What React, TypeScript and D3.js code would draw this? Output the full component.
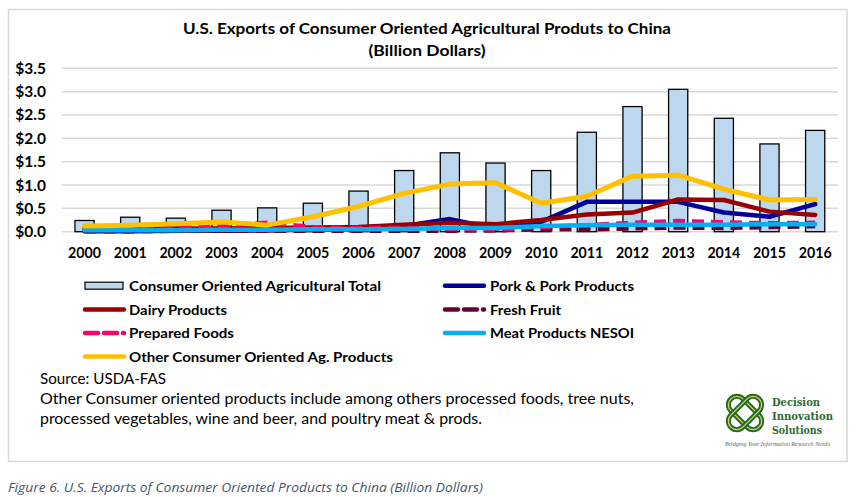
import React from 'react';
import * as d3 from 'd3';

const years = ['2000','2001','2002','2003','2004','2005','2006','2007','2008','2009','2010','2011','2012','2013','2014','2015','2016'];
const totalValues = [0.24,0.31,0.29,0.46,0.51,0.61,0.87,1.31,1.69,1.47,1.31,2.13,2.68,3.05,2.43,1.88,2.17];
const porkValues = [0.01,0.01,0.02,0.02,0.03,0.04,0.05,0.12,0.27,0.07,0.21,0.64,0.64,0.64,0.41,0.32,0.59];
const dairyValues = [0.06,0.06,0.07,0.07,0.08,0.09,0.1,0.15,0.19,0.16,0.25,0.37,0.41,0.69,0.68,0.43,0.36];
const fruitValues = [0.01,0.01,0.02,0.02,0.02,0.02,0.02,0.02,0.02,0.03,0.05,0.05,0.07,0.09,0.08,0.1,0.12];
const preparedValues = [0.05,0.07,0.08,0.13,0.19,0.1,0.08,0.08,0.06,0.05,0.1,0.14,0.19,0.23,0.2,0.18,0.19];
const meatValues = [0.03,0.03,0.03,0.04,0.04,0.05,0.05,0.06,0.08,0.08,0.12,0.14,0.15,0.15,0.15,0.16,0.16];
const otherValues = [0.12,0.14,0.17,0.21,0.14,0.32,0.54,0.82,1.02,1.05,0.61,0.76,1.19,1.21,0.91,0.68,0.69];
const yTicks = [0, 0.5, 1.0, 1.5, 2.0, 2.5, 3.0, 3.5];

const titleLine1 = 'U.S. Exports of Consumer Oriented Agricultural Produts to China';
const titleLine2 = '(Billion Dollars)';
const sourceLines = [
  'Source: USDA-FAS',
  'Other Consumer oriented products include among others  processed foods, tree nuts,',
  'processed vegetables, wine and beer, and poultry meat & prods.',
];
const caption = 'Figure 6. U.S. Exports of Consumer Oriented Products to China (Billion Dollars)';
const logoLines = ['Decision', 'Innovation', 'Solutions'];
const logoTagline = 'Bridging Your Information Research Needs';

const FONT = 'Lato, Carlito, "Liberation Sans", sans-serif';

type Series = { name: string; values: number[]; color: string; width: number; dash?: string };

const lineSeries: Series[] = [
  { name: 'Pork & Pork Products', values: porkValues, color: '#000099', width: 4.5 },
  { name: 'Dairy Products', values: dairyValues, color: '#990000', width: 4.5 },
  { name: 'Fresh Fruit', values: fruitValues, color: '#660033', width: 4.5, dash: '12 7' },
  { name: 'Prepared Foods', values: preparedValues, color: '#FF0066', width: 4.5, dash: '12 7' },
  { name: 'Meat Products NESOI', values: meatValues, color: '#00B0F0', width: 4.5 },
  { name: 'Other Consumer Oriented Ag. Products', values: otherValues, color: '#FFC000', width: 5 },
];

export default function App() {
  const W = 857, H = 497;
  const x = d3.scaleBand<string>().domain(years).range([61.7, 838]).padding(0);
  const y = d3.scaleLinear().domain([0, 3.5]).range([231.7, 68.3]);
  const bw = x.bandwidth() * 0.42;
  const cx = (yr: string) => (x(yr) as number) + x.bandwidth() / 2;

  const lineGen = (vals: number[]) =>
    d3.line<number>()
      .x((_, i) => cx(years[i]))
      .y((v) => y(v))
      .curve(d3.curveLinear)(vals) as string;

  const legendItems = [
    { kind: 'bar', label: 'Consumer Oriented Agricultural Total', col: 0, row: 0, tl: 252 },
    { kind: 'line', s: lineSeries[0], label: lineSeries[0].name, col: 1, row: 0, tl: 144 },
    { kind: 'line', s: lineSeries[1], label: lineSeries[1].name, col: 0, row: 1, tl: 98 },
    { kind: 'line', s: lineSeries[2], label: lineSeries[2].name, col: 1, row: 1, tl: 71 },
    { kind: 'line', s: lineSeries[3], label: lineSeries[3].name, col: 0, row: 2, tl: 105 },
    { kind: 'line', s: lineSeries[4], label: lineSeries[4].name, col: 1, row: 2, tl: 144 },
    { kind: 'line', s: lineSeries[5], label: lineSeries[5].name, col: 0, row: 3, tl: 264 },
  ] as any[];
  const legendRowY = [285.7, 309.5, 333, 356.5];
  const legendSymX = [84, 444];
  const legendTextX = [129, 490];
  const logoWidths = [48, 61, 50];

  return (
    <svg width={W} height={H} style={{ position: 'absolute', left: 0, top: 0, background: '#fff' }} fontFamily={FONT}>
      <rect x={0} y={0} width={W} height={H} fill="#fff" />
      <rect x={8.5} y={9.5} width={838.5} height={452} fill="#fff" stroke="#D9D9D9" strokeWidth={1.5} />

      {/* Title */}
      <text x={427} y={34} textAnchor="middle" fontSize={16} fontWeight="bold" fill="#000" textLength={488} lengthAdjust="spacingAndGlyphs">{titleLine1}</text>
      <text x={427} y={56} textAnchor="middle" fontSize={16} fontWeight="bold" fill="#000" textLength={117} lengthAdjust="spacingAndGlyphs">{titleLine2}</text>

      {/* Grid + y ticks */}
      {yTicks.map((t) => (
        <g key={t}>
          <line x1={61.7} x2={838} y1={y(t)} y2={y(t)} stroke="#D9D9D9" strokeWidth={1.5} />
          <text x={46} y={y(t) + 5.5} textAnchor="end" fontSize={15.5} fontWeight="bold" fill="#000">{'$' + t.toFixed(1)}</text>
        </g>
      ))}

      {/* Bars */}
      {years.map((yr, i) => (
        <rect key={yr} x={cx(yr) - bw / 2} y={y(totalValues[i])} width={bw} height={y(0) - y(totalValues[i])}
          fill="#BDD7EE" stroke="#000" strokeWidth={1.3} />
      ))}

      {/* Lines */}
      {lineSeries.map((s) => (
        <path key={s.name} d={lineGen(s.values)} fill="none" stroke={s.color} strokeWidth={s.width}
          strokeDasharray={s.dash} strokeLinejoin="round" strokeLinecap={s.dash ? 'butt' : 'round'} />
      ))}

      {/* X labels */}
      {years.map((yr) => (
        <text key={yr} x={cx(yr)} y={258} textAnchor="middle" fontSize={14.2} fontWeight="bold" fill="#000">{yr}</text>
      ))}

      {/* Legend */}
      {legendItems.map((it, i) => {
        const yy = legendRowY[it.row];
        const sx = legendSymX[it.col];
        return (
          <g key={i}>
            {it.kind === 'bar' ? (
              <rect x={sx + 1} y={yy - 3.5} width={38} height={7} fill="#BDD7EE" stroke="#000" strokeWidth={1.2} />
            ) : (
              <line x1={sx + 1} x2={sx + 40} y1={yy} y2={yy} stroke={it.s.color} strokeWidth={4.5}
                strokeDasharray={it.s.dash ? '13 6' : undefined} strokeLinecap="round" />
            )}
            <text x={legendTextX[it.col]} y={yy + 5} fontSize={14} fontWeight="bold" fill="#000" textLength={it.tl} lengthAdjust="spacingAndGlyphs">{it.label}</text>
          </g>
        );
      })}

      {/* Source notes */}
      <text x={40} y={383.5} fontSize={14.5} fill="#000" textLength={126} lengthAdjust="spacingAndGlyphs">{sourceLines[0]}</text>
      <text x={40} y={404} fontSize={14.5} fill="#000" textLength={594} lengthAdjust="spacingAndGlyphs">{sourceLines[1]}</text>
      <text x={40} y={424} fontSize={14.5} fill="#000" textLength={442} lengthAdjust="spacingAndGlyphs">{sourceLines[2]}</text>

      {/* Logo */}
      <g transform="translate(745,413)">
        {[45, -45].map((a) => (
          <g key={a} transform={`rotate(${a})`}>
            <rect x={-20} y={-8.5} width={40} height={17} rx={8.5} fill="none" stroke="#1E6B2E" strokeWidth={5} />
            <rect x={-20} y={-8.5} width={40} height={17} rx={8.5} fill="none" stroke="#F4CB4A" strokeWidth={1.3} />
          </g>
        ))}
      </g>
      <g fontFamily='"DejaVu Serif", "Liberation Serif", serif' fontWeight="bold" fill="#2E6B30" fontSize={11.5}>
        {logoLines.map((t, i) => (
          <text key={t} x={772} y={406 + i * 14} textLength={logoWidths[i]} lengthAdjust="spacingAndGlyphs">{t}</text>
        ))}
      </g>
      <text x={725} y={445.5} fontSize={5.6} fontStyle="italic" fill="#666" fontFamily='"Liberation Serif", serif' textLength={105} lengthAdjust="spacingAndGlyphs">{logoTagline}</text>

      {/* Caption */}
      <text x={8} y={492} fontSize={13.5} fontStyle="italic" fill="#44546A" fontFamily='"Open Sans", sans-serif' textLength={475} lengthAdjust="spacingAndGlyphs">{caption}</text>
    </svg>
  );
}
